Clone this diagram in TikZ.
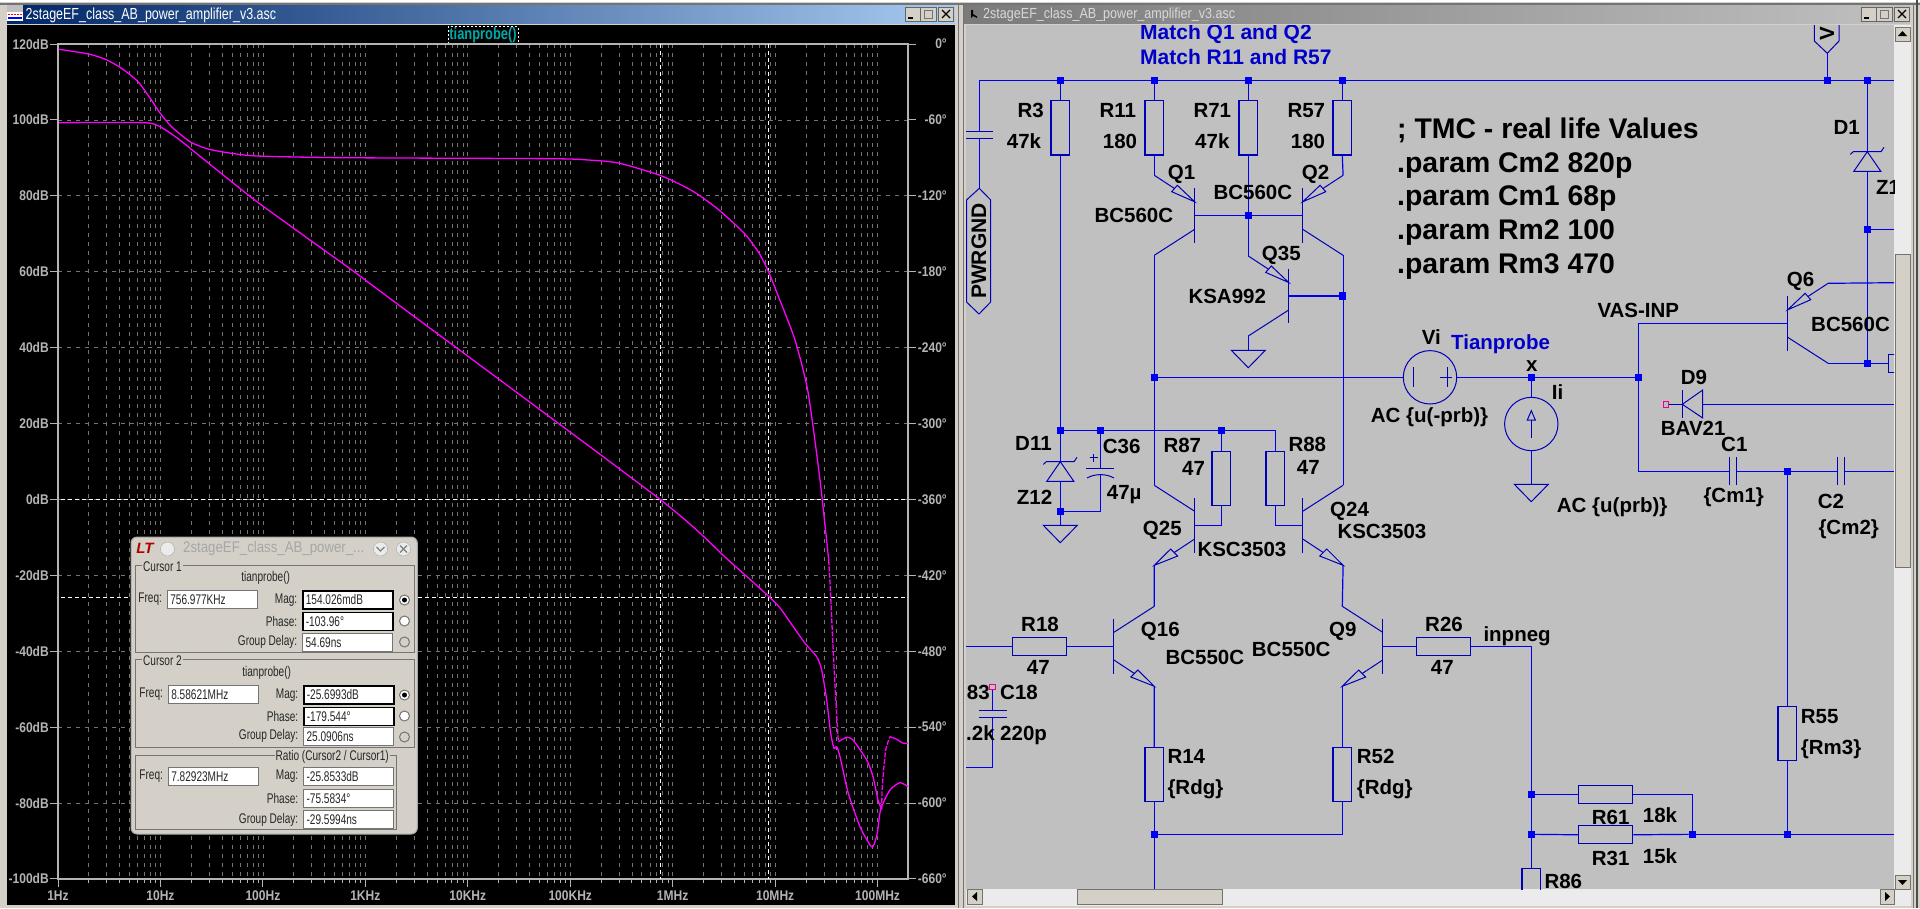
\documentclass[tikz,border=0pt]{standalone}
\usepackage{fontspec}
\setmainfont{Liberation Sans}
\newfontfamily\narrowfont[FakeStretch=.86]{Liberation Sans}
\newfontfamily\dlgfont[FakeStretch=.72]{Liberation Sans}
\newfontfamily\titlefont[FakeStretch=.78]{Liberation Sans}
\usetikzlibrary{positioning}
\definecolor{winbg}{HTML}{D4D0C8}
\definecolor{schbg}{HTML}{C0C0C0}
\definecolor{wireblue}{HTML}{0000F0}
\definecolor{symbblue}{HTML}{0000B8}
\definecolor{textblue}{HTML}{0000C8}
\definecolor{gridgray}{HTML}{747474}
\definecolor{axisgray}{HTML}{B4B4B4}
\definecolor{tracepink}{HTML}{FF00FF}
\tikzset{
	wire/.style={draw=wireblue, line width=1.2pt},
	symb/.style={draw=symbblue, line width=1pt},
	dot/.style={rectangle, fill=wireblue, minimum size=7.2pt, inner sep=0pt},
	resv/.style={rectangle, symb, line width=1.1pt, minimum width=18.6pt, minimum height=54.4pt, inner sep=0pt},
	resh/.style={rectangle, symb, line width=1.1pt, minimum width=54.4pt, minimum height=18.2pt, inner sep=0pt},
	src/.style={circle, symb, minimum size=53.4pt, inner sep=0pt},
	probe/.style={rectangle, draw=magenta, line width=1pt, minimum size=5.5pt, inner sep=0pt},
	schlabel/.style={anchor=base west, inner sep=0pt, text=black, font=\fontsize{20.5}{24}\selectfont\bfseries},
	axislabel/.style={inner sep=0pt, text=axisgray, font=\narrowfont\fontsize{14}{16}\selectfont\bfseries},
	dlgtext/.style={inner sep=0pt, text=black!85, font=\dlgfont\fontsize{14}{16}\selectfont},
	trace/.style={draw=tracepink, line width=1.3pt},
	griddash/.style={draw=gridgray, line width=.8pt, dash pattern=on 4pt off 5pt},
	cursordash/.style={draw=white, line width=1pt, dash pattern=on 4pt off 3pt},
	pics/pnp/.style={code={
		\draw[symb] (0,-27.2) -- (0,27.2);
		\draw[symb] (0,-13.5) -- (-17.4,-30) -- (-23,-23.6) -- cycle;
		\draw[symb] (-20.2,-26.8) -- (-40.4,-40);
		\draw[symb] (0,14) -- (-40.4,40);
		\coordinate (-e) at (-40.4,-40);
		\coordinate (-c) at (-40.4,40);
		\coordinate (-b) at (0,0);
	}},
	pics/npn/.style={code={
		\draw[symb] (0,-27.2) -- (0,27.2);
		\draw[symb] (-40.4,40) -- (-24,23.7) -- (-17,30.7) -- cycle;
		\draw[symb] (-20.5,27.2) -- (0,13.7);
		\draw[symb] (0,-14) -- (-40.4,-40);
		\coordinate (-e) at (-40.4,40);
		\coordinate (-c) at (-40.4,-40);
		\coordinate (-b) at (0,0);
	}},
	pics/gnd/.style={code={
		\draw[symb] (-17,0) -- (17,0) -- (0,17.4) -- cycle;
		\coordinate (-t) at (0,0);
	}},
	pics/zener/.style={code={
		\draw[symb] (-17,2.7) -- (-14,0) -- (13.7,0) -- (16.7,-4.4);
		\draw[symb] (0,0) -- (-13.5,19.6) -- (13.5,19.6) -- cycle;
		\coordinate (-k) at (0,0);
		\coordinate (-a) at (0,19.6);
	}},
	pics/winbtns/.style={code={
		\foreach \bx in {0,15.5,33} {
			\draw[fill=winbg, draw=black!60, line width=1pt] (\bx,0) rectangle ++(15.5,14);
		}
		\draw[black, line width=1.4pt] (3,11) -- (8,11);
		\draw[gridgray, line width=1pt] (19.5,3) rectangle (27.5,11);
		\draw[black, line width=1.2pt] (37,3) -- (45,11) (45,3) -- (37,11);
	}}
}

\begin{document}
\begin{tikzpicture}[x=1pt,y=-1pt]
	\useasboundingbox (0,0) rectangle (1920,908);
	\fill[winbg] (0,0) rectangle (1920,908);
	\draw[white, line width=1.5pt] (0,1) -- (1920,1);
	\draw[gridgray, line width=1.4pt] (0,4) -- (1920,4);
	\draw[gridgray, line width=1pt] (958,4) -- (958,908) (963,4) -- (963,908) (1913,4) -- (1913,908);
	\draw[black!70, line width=1.6pt] (1917,0) -- (1917,908);

	% left window
	\shade[left color=blue!30!black!85!cyan, right color={rgb,255:red,166;green,202;blue,240}] (7,5) rectangle (955,23);
	\fill[black!25] (7,5) rectangle (23,12);
	\fill[white] (7,12) rectangle (23,21);
	\draw[red, line width=1pt, dash pattern=on 2pt off 1pt] (8,14) -- (22,14);
	\draw[blue, line width=1.2pt] (8,18) -- (22,18);
	\node[anchor=west, inner sep=0pt, text=white, font=\titlefont\fontsize{16}{18}\selectfont] (plotTitle) at (25.5,15) {2stageEF\_class\_AB\_power\_amplifier\_v3.asc};
	\pic (plotBtns) at (905,7) {winbtns};
	\fill[black] (7,25) rectangle (955,905);
	\node[draw=white, line width=.8pt, dash pattern=on 2pt off 2pt, inner sep=0pt, minimum width=70pt, minimum height=17pt, text={rgb,255:red,0;green,170;blue,170}, font=\titlefont\fontsize{16.5}{18}\selectfont\bfseries] (plotExpr) at (483,35) {tianprobe()};

	% grid
	\begin{scope}
		\clip (58,44) rectangle (908,879);
		\foreach \dec in {0,...,8} {
			\foreach \off in {0,.301,.477,.602,.699,.778,.845,.903,.954} {
				\pgfmathsetmacro\gx{58+102.45*(\dec+\off)}
				\draw[griddash] (\gx,44) -- (\gx,879);
			}
		}
		\foreach \k in {1,...,10} {
			\draw[griddash] (58,44+75.9*\k) -- (908,44+75.9*\k);
		}
	\end{scope}
	\foreach \dec in {0,...,8} {
		\foreach \off in {.301,.477,.602,.699,.778,.845,.903,.954} {
			\pgfmathsetmacro\gx{58+102.45*(\dec+\off)}
			\pgfmathparse{\gx<908 ? 1 : 0}
			\ifnum\pgfmathresult=1 \draw[axisgray, line width=.9pt] (\gx,879) -- (\gx,883); \fi
		}
	}
	\draw[axisgray, line width=1.1pt] (58,44) rectangle (908,879);
	\foreach \txt [count=\k from 0] in {120dB,100dB,80dB,60dB,40dB,20dB,0dB,-20dB,-40dB,-60dB,-80dB,-100dB} {
		\node[axislabel, anchor=east] (leftTick\k) at (49,44+75.9*\k) {\txt};
		\draw[axisgray, line width=1pt] (50,44+75.9*\k) -- (58,44+75.9*\k);
	}
	\foreach \txt [count=\k from 0] in {0°,-60°,-120°,-180°,-240°,-300°,-360°,-420°,-480°,-540°,-600°,-660°} {
		\node[axislabel, anchor=east] (rightTick\k) at (947,44+75.9*\k) {\txt};
		\draw[axisgray, line width=1pt] (908,44+75.9*\k) -- (916,44+75.9*\k);
	}
	\foreach \txt [count=\k from 0] in {1Hz,10Hz,100Hz,1KHz,10KHz,100KHz,1MHz,10MHz,100MHz} {
		\node[axislabel] (freqTick\k) at (58+102.45*\k,895.5) {\txt};
		\draw[axisgray, line width=1pt] (58+102.45*\k,879) -- (58+102.45*\k,887);
	}

	% cursors
	\draw[cursordash] (660.4,44) -- (660.4,879);
	\draw[cursordash] (768.4,44) -- (768.4,879);
	\draw[cursordash] (61,499.4) -- (908,499.4);
	\draw[cursordash] (61,597.3) -- (908,597.3);

	% traces
	\draw[trace] plot[smooth, tension=.4] coordinates {(58.8,49.3) (88.8,54) (107,60) (122.5,69) (138,81.7) (150,98) (160,113) (171.5,126.7) (190,141.7) (208,149) (229.6,153) (257,156) (343,157.7) (551,158.7) (588,160) (618.5,163) (661,175.7) (692,190.7) (716.5,208) (744,233) (759,253) (768.5,271.7) (779,298) (795,340) (808,392) (820,480) (828.7,560)};
	\draw[trace, dash pattern=on 5pt off 1.5pt] plot[smooth, tension=.4] coordinates {(828.7,560) (830.7,596.7) (833.3,653) (836,703) (838.3,741.7)};
	\draw[trace] plot[smooth, tension=.4] coordinates {(838.3,741.7) (846.7,737.3) (853,740) (866.7,760) (873,776.7) (878,800) (881.7,809.3)};
	\draw[trace, dash pattern=on 5pt off 1.5pt] plot[smooth, tension=.4] coordinates {(881.7,809.3) (882.3,786.7) (885.7,750) (890,736.7)};
	\draw[trace] plot[smooth, tension=.4] coordinates {(890,736.7) (896.7,739.3) (903.3,743.3) (908,743.3)};
	\draw[trace] plot[smooth, tension=.4] coordinates {(58.8,122.7) (144,122.7) (160,126.7) (177.6,138.3) (196,153) (257,201.7) (349,268) (392,300) (660,499.4) (728.3,560) (768.3,596) (780,608) (793.3,626.7) (805,643.3) (816.7,656.7) (821.7,670) (826.7,700) (830.7,733.3) (834,748.3) (836.7,746.7) (840,756.7) (848.3,793.3) (860,826.7) (870,845) (873.3,846) (877.3,833.3) (880.7,809.3) (890,790) (900,782.7) (908,786.7)};

	% cursor dialog
	\draw[rounded corners=6pt, fill=winbg, draw=black!35, line width=1pt] (131,537) rectangle (417.3,834);
	\node[text=red!70!black, inner sep=0pt, font=\fontsize{15}{16}\selectfont\bfseries\itshape] (dlgLogo) at (145,548.5) {LT};
	\node[circle, draw=black!35, fill=black!8, minimum size=14pt, inner sep=0pt] (dlgMenu) at (167.5,549) {};
	\node[anchor=west, inner sep=0pt, text=black!35, font=\narrowfont\fontsize{15.4}{17}\selectfont] (dlgTitle) at (183,549) {2stageEF\_class\_AB\_power\_...};
	\node[circle, draw=black!35, fill=black!8, minimum size=14pt, inner sep=0pt] (dlgRoll) at (380.5,549) {};
	\node[circle, draw=black!35, fill=black!8, minimum size=14pt, inner sep=0pt] (dlgClose) at (403.5,549) {};
	\draw[black!50, line width=1.2pt] (376.5,547) -- (380.5,551) -- (384.5,547);
	\draw[black!50, line width=1.2pt] (400,545.5) -- (407,552.5) (407,545.5) -- (400,552.5);
	\draw[gridgray, line width=1pt] (135,565) rectangle (414,652);
	\draw[gridgray, line width=1pt] (135,659) rectangle (414,747);
	\draw[gridgray, line width=1pt] (135,755) rectangle (396,829);
	\node[dlgtext, anchor=west, fill=winbg, inner xsep=1pt] (c1Title) at (142,567) {Cursor 1};
	\node[dlgtext, anchor=west, fill=winbg, inner xsep=1pt] (c2Title) at (142,661) {Cursor 2};
	\node[dlgtext, anchor=east, fill=winbg, inner xsep=1pt] (ratioTitle) at (390,757) {Ratio (Cursor2 / Cursor1)};
	\node[dlgtext] (c1Expr) at (265.7,578) {tianprobe()};
	\node[dlgtext] (c2Expr) at (266.7,673) {tianprobe()};
	\foreach \nm/\lab/\fx/\fy/\txt/\lw/\dc in {
		c1F/Freq:/166.7/590/756.977KHz/1.2/gridgray,
		c1M/Mag:/302/590/154.026mdB/1.7/black,
		c1P/Phase:/302/611.7/-103.96°/1.7/black,
		c1G/Group Delay:/302/632.7/54.69ns/1.2/gridgray,
		c2F/Freq:/167.7/685/8.58621MHz/1.2/gridgray,
		c2M/Mag:/303/685/-25.6993dB/1.7/black,
		c2P/Phase:/303/706.7/-179.544°/1.7/black,
		c2G/Group Delay:/303/726.7/25.0906ns/1.2/gridgray,
		rF/Freq:/167.7/766.7/7.82923MHz/1.2/gridgray,
		rM/Mag:/303/766.7/-25.8533dB/1.2/gridgray,
		rP/Phase:/303/789/-75.5834°/1.2/gridgray,
		rG/Group Delay:/303/810/-29.5994ns/1.2/gridgray} {
		\node[dlgtext, anchor=north west, fill=white, draw=\dc, line width=\lw pt, text width=84pt, inner xsep=3pt, inner ysep=0pt, minimum height=18pt] (\nm) at (\fx,\fy) {\txt};
		\node[dlgtext, left=4.5pt of \nm] (\nm lab) {\lab};
	}
	\foreach \nm/\ry/\col in {c1a/600/white,c1b/621/white,c1c/642/winbg,c2a/695/white,c2b/716/white,c2c/737/winbg} {
		\node[circle, draw=gridgray, fill=\col, line width=1pt, minimum size=10pt, inner sep=0pt] (\nm) at (404.5,\ry) {};
	}
	\fill[black] (c1a) circle (2.5);
	\fill[black] (c2a) circle (2.5);

	% right window
	\shade[left color=black!52, right color=schbg] (964,5) rectangle (1910,23);
	\fill[black] (971,10) -- (971,18) -- (973,16) -- (977,18) -- (977,16.5) -- (973,14) -- (973,10) -- cycle;
	\node[anchor=west, inner sep=0pt, text=black!15, font=\narrowfont\fontsize{14.6}{16}\selectfont] (schTitle) at (983,15) {2stageEF\_class\_AB\_power\_amplifier\_v3.asc};
	\pic (schBtns) at (1861,7) {winbtns};
	\fill[schbg] (966,25) rectangle (1894,889);
	\fill[black!8] (1894,25) rectangle (1911,906);
	\fill[black!8] (966,889) rectangle (1894,906);
	\draw[fill=winbg, draw=black!55] (1895,27) rectangle (1910,41);
	\draw[fill=winbg, draw=black!55] (1895,254) rectangle (1910,567);
	\draw[fill=winbg, draw=black!55] (1895,875) rectangle (1910,889);
	\draw[fill=winbg, draw=black!55] (967,889) rectangle (982,904);
	\draw[fill=winbg, draw=black!55] (1077,889) rectangle (1222,904);
	\draw[fill=winbg, draw=black!55] (1880,889) rectangle (1894,904);
	\fill[black] (1898,36) -- (1907,36) -- (1902.5,31) -- cycle;
	\fill[black] (1898,880) -- (1907,880) -- (1902.5,885) -- cycle;
	\fill[black] (977,892) -- (977,901) -- (972,896.5) -- cycle;
	\fill[black] (1885,892) -- (1885,901) -- (1890,896.5) -- cycle;

	\begin{scope}
		\clip (966,25) rectangle (1894,889);
		% parts
		\node[resv] (R3) at (1060.3,127.8) {};
		\node[resv] (R11) at (1154.3,127.8) {};
		\node[resv] (R71) at (1248.3,127.8) {};
		\node[resv] (R57) at (1342.3,127.8) {};
		\node[resv] (R87) at (1221.3,478.5) {};
		\node[resv] (R88) at (1275.3,478.5) {};
		\node[resv] (R14) at (1154.3,774.5) {};
		\node[resv] (R52) at (1342.3,774.5) {};
		\node[resv] (R55) at (1787.3,733.5) {};
		\node[resv] (R86) at (1531.3,895.5) {};
		\node[resh] (R18) at (1039.5,646.3) {};
		\node[resh] (R26) at (1443.5,646.3) {};
		\node[resh] (R61) at (1605.5,794.3) {};
		\node[resh] (R31) at (1605.5,834.8) {};
		\node[rectangle, symb, minimum width=54.4pt, minimum height=18.2pt, inner sep=0pt, anchor=west] (Rq6) at (1888.3,363.3) {};
		\node[src] (Vi) at (1430,377.3) {};
		\node[src] (Ii) at (1531.3,424) {};
		\pic (Q1) at (1194.7,215.3) {pnp};
		\pic[xscale=-1] (Q2) at (1302.7,215.3) {pnp};
		\pic (Q35) at (1288.7,296) {pnp};
		\pic[xscale=-1] (Q6) at (1787.7,323.3) {pnp};
		\pic (Q25) at (1194.7,525.3) {npn};
		\pic[xscale=-1] (Q24) at (1302.7,525.3) {npn};
		\pic[xscale=-1] (Q16) at (1113.9,646.3) {npn};
		\pic (Q9) at (1382.7,646.3) {npn};
		\pic (gndQ35) at (1248.3,350.3) {gnd};
		\pic (gndD11) at (1060.3,525.3) {gnd};
		\pic (gndIi) at (1531.3,484.3) {gnd};
		\pic (D11) at (1060.3,461.7) {zener};
		\pic (D1) at (1867.3,151.7) {zener};

		% junctions
		\foreach \nm/\jx/\jy in {jR3/1060.3/80.3, jR11/1154.3/80.3, jR71/1248.3/80.3, jR57/1342.3/80.3, jV/1827.3/80.3, jD1/1867.3/80.3,
			jBase/1248.3/215.3, jQ35/1342.3/296, jVi/1154.3/377.3, jD11/1060.3/430.3, jC36/1100.3/430.3, jR87/1221.3/430.3, jGnd/1060.3/511.3,
			jX/1531.3/377.3, jVas/1638.3/377.3, jZ/1867.3/229.3, jQ6/1867.3/363.3, jCm/1787.3/471.3,
			jR14/1154.3/834.3, jR61/1531.3/794.3, jR31/1531.3/834.3, jFb/1692.3/834.3, jR55/1787.3/834.3} {
			\node[dot] (\nm) at (\jx,\jy) {};
		}
		\coordinate (railL) at (979.3,80.3);
		\coordinate (railR) at (1894,80.3);
		\node[probe] (pD9) at (1666,404.3) {};
		\node[probe] (pC18) at (992.7,687) {};

		% wires
		\draw[wire] (railL) -- (railR);
		\draw[wire] (jR3) -- (R3.north);
		\draw[wire] (jR11) -- (R11.north);
		\draw[wire] (jR71) -- (R71.north);
		\draw[wire] (jR57) -- (R57.north);
		\draw[wire] (R3.south) -- (jD11);
		\draw[wire] (R11.south) -- (Q1-e);
		\draw[wire] (R57.south) -- (Q2-e);
		\draw[wire] (R71.south) -- (jBase);
		\draw[wire] (jBase) -- (Q35-e);
		\draw[wire] (Q1-b) -- (Q2-b);
		\draw[wire] (Q1-c) -- (Q25-c);
		\draw[wire] (Q2-c) -- (Q24-c);
		\draw[wire] (Q35-b) -- (jQ35);
		\draw[wire] (Q35-c) -- (gndQ35-t);
		\draw[wire] (jVi) -- (Vi.west);
		\draw[wire] (Vi.east) -- (jVas);
		\draw[wire] (jX) -- (Ii.north);
		\draw[wire] (Ii.south) -- (gndIi-t);
		\draw[wire] (jD11) -| (R88.north);
		\draw[wire] (jD11) -- (D11-k);
		\draw[wire] (D11-a) -- (jGnd);
		\draw[wire] (jGnd) -- (gndD11-t);
		\draw[wire] (jR87) -- (R87.north);
		\draw[wire] (R87.south) |- (Q25-b);
		\draw[wire] (R88.south) |- (Q24-b);
		\draw[wire] (Q25-e) -- (Q16-c);
		\draw[wire] (Q24-e) -- (Q9-c);
		\draw[wire] (Q16-e) -- (R14.north);
		\draw[wire] (Q9-e) -- (R52.north);
		\draw[wire] (R14.south) -- (jR14);
		\draw[wire] (R52.south) |- (jR14);
		\coordinate (rowB) at (1154.3,889);
		\draw[wire] (jR14) -- (rowB);
		\draw[wire] (R18.east) -- (Q16-b);
		\draw[wire] (Q9-b) -- (R26.west);
		\coordinate (inL) at (966,646.3);
		\draw[wire] (inL) -- (R18.west);
		\draw[wire] (R26.east) -| (jR61);
		\draw[wire] (jR61) -- (jR31);
		\draw[wire] (jR31) -- (R86.north);
		\draw[wire] (jR61) -- (R61.west);
		\draw[wire] (jR31) -- (R31.west);
		\draw[wire] (R61.east) -| (jFb);
		\draw[wire] (R31.east) -- (jFb);
		\coordinate (fbR) at (1894,834.3);
		\draw[wire] (jFb) -- (fbR);
		\draw[wire] (jCm) -- (R55.north);
		\draw[wire] (R55.south) -- (jR55);
		\draw[wire] (jVas) |- (Q6-b);
		\coordinate (c1L) at (1729.3,471.3);
		\coordinate (c1R) at (1736.7,471.3);
		\coordinate (c2L) at (1837.3,471.3);
		\coordinate (c2R) at (1844.7,471.3);
		\coordinate (cmR) at (1894,471.3);
		\draw[wire] (jVas) |- (c1L);
		\draw[wire] (c1R) -- (jCm);
		\draw[wire] (jCm) -- (c2L);
		\draw[wire] (c2R) -- (cmR);
		\draw[symb] (1729.3,457.3) -- (1729.3,485) (1736.7,457.3) -- (1736.7,485);
		\draw[symb] (1837.3,457.3) -- (1837.3,485) (1844.7,457.3) -- (1844.7,485);
		% supply side
		\coordinate (vFlag) at (1827.3,53.3);
		\draw[wire] (jV) -- (vFlag);
		\draw[symb] (1814.3,25) -- (1814.3,41) -- (vFlag) -- (1839,41) -- (1839,25);
		\node[rotate=90, inner sep=0pt, font=\fontsize{20.5}{24}\selectfont\bfseries] (vName) at (1827,34) {V};
		\draw[wire] (jD1) -- (D1-k);
		\draw[wire] (D1-a) -- (jZ);
		\draw[wire] (jZ) -- (jQ6);
		\coordinate (zR) at (1894,229.3);
		\coordinate (q6R) at (1894,282.7);
		\draw[wire] (jZ) -- (zR);
		\draw[wire] (Q6-e) -- (q6R);
		\draw[wire] (Q6-c) -- (jQ6);
		\draw[wire] (jQ6) -- (Rq6.west);
		% D9
		\coordinate (d9k) at (1682.3,404.3);
		\coordinate (d9a) at (1702.7,404.3);
		\coordinate (d9R) at (1894,404.3);
		\draw[symb] (pD9) -- (d9k);
		\draw[symb] (1682.3,390) -- (1682.3,417.7);
		\draw[symb] (d9k) -- (1702.7,390) -- (1702.7,418) -- cycle;
		\draw[wire] (d9a) -- (d9R);
		% C3 and PWRGND
		\coordinate (capA) at (979.3,131.3);
		\coordinate (capB) at (979.3,138.3);
		\coordinate (flagTop) at (979.3,188.3);
		\draw[wire] (railL) -- (capA);
		\draw[wire] (capB) -- (flagTop);
		\draw[symb] (966,131.3) -- (992.7,131.3) (966,138.3) -- (992.7,138.3);
		\draw[symb] (flagTop) -- (990.7,200) -- (990.7,302) -- (979,314) -- (966.5,302) -- (966.5,200) -- cycle;
		\node[rotate=90, inner sep=0pt, font=\fontsize{21}{24}\selectfont\bfseries] (pwrName) at (979,251) {PWRGND};
		% C36
		\coordinate (c36a) at (1100.3,468.3);
		\coordinate (c36b) at (1100.3,474.6);
		\coordinate (c36c) at (1100.3,511.3);
		\draw[wire] (jC36) -- (c36a);
		\draw[wire] (c36b) -- (c36c) -- (jGnd);
		\draw[symb] (1086,468.3) -- (1114,468.3);
		\draw[symb] (1087,478) .. controls (1095,473.5) and (1106,473.5) .. (1114,478);
		\draw[symb] (1089.7,457.7) -- (1097.7,457.7) (1093.7,453.7) -- (1093.7,461.7);
		% Vi, Ii marks
		\draw[symb] (1413.7,367.3) -- (1413.7,387.3);
		\draw[symb] (1440,377.3) -- (1452,377.3) (1447.3,367.3) -- (1447.3,387.3);
		\draw[symb] (1531.3,437.7) -- (1531.3,420);
		\draw[symb] (1531.3,410.7) -- (1527.3,420) -- (1535.3,420) -- cycle;
		% C18
		\coordinate (c18a) at (992.7,710.3);
		\coordinate (c18b) at (992.7,717.3);
		\coordinate (c18c) at (992.7,767.3);
		\coordinate (c18L) at (966,767.3);
		\draw[wire] (pC18) -- (c18a);
		\draw[wire] (c18b) -- (c18c) -- (c18L);
		\draw[symb] (979,710.3) -- (1006.7,710.3) (979,717.3) -- (1006.7,717.3);

		% labels
		\foreach \nm/\lx/\ly/\txt in {
			lR3/1017.3/117.7/R3, lR3v/1006.7/148.3/47k, lR11/1099.3/117.7/R11, lR11v/1102.7/148.3/180,
			lR71/1193.3/117.7/R71, lR71v/1195/148.3/47k, lR57/1287.3/117.7/R57, lR57v/1290.7/148.3/180,
			lQ1/1167.7/179.3/Q1, lQ2/1301.7/179.3/Q2, lQ2v/1213.3/199/BC560C, lQ1v/1094.3/222.7/BC560C,
			lQ35/1261.7/260/Q35, lQ35v/1188.3/303.3/KSA992, lD1/1833.3/134.7/D1, lZ1/1876/194.3/Z1,
			lQ6/1786.7/286.7/Q6, lQ6v/1811/331.7/BC560C, lVas/1597.3/317.7/VAS-INP,
			lx/1526/371.7/x, lIi/1551.7/399.3/Ii, lVi/1421.7/344.3/Vi, lViv/1370.7/422.3/AC \{u(-prb)\},
			lIiv/1556.7/512.7/AC \{u(prb)\}, lD9/1680.7/384.3/D9, lD9v/1660.7/435/BAV21,
			lC1/1721/451/C1, lC1v/1703.3/502.7/\{Cm1\}, lC2/1817.7/508.3/C2, lC2v/1818.3/534/\{Cm2\},
			lD11/1015/450.7/D11, lZ12/1016.7/504/Z12, lC36/1102.7/453.3/C36, lC36v/1106.7/499/47µ,
			lR87/1163.3/452.7/R87, lR87v/1182/475.3/47, lR88/1288.3/451.7/R88, lR88v/1296.7/474/47,
			lQ25/1142.7/535/Q25, lQ25v/1197.3/556.7/KSC3503, lQ24/1330/516/Q24, lQ24v/1337.3/538.7/KSC3503,
			lR18/1021/631.7/R18, lR18v/1026.7/674/47, lQ16/1140.7/636.7/Q16, lQ16v/1165.3/664.7/BC550C,
			lQ9v/1251.7/656.7/BC550C, lQ9/1329/636.7/Q9, lR26/1425/631.7/R26, lR26v/1430.7/674/47,
			lInp/1483.3/641/inpneg, lR83/966.7/699.3/83, lC18/1000/699.3/C18, lR83v/966/740/.2k, lC18v/1000/740/220p,
			lR14/1167.3/763.3/R14, lR14v/1167.3/794/\{Rdg\}, lR52/1356.7/763.3/R52, lR52v/1356.7/794/\{Rdg\},
			lR55/1800.7/723.3/R55, lR55v/1800.7/754/\{Rm3\}, lR61/1591.7/824/R61, lR61v/1642.7/822.7/18k,
			lR31/1591.7/865.3/R31, lR31v/1642.7/863.3/15k, lR86/1544.3/888.3/R86} {
			\node[schlabel] (\nm) at (\lx,\ly) {\txt};
		}
		\node[schlabel, text=textblue, font=\fontsize{21}{24}\selectfont\bfseries] (match1) at (1140,39.3) {Match Q1 and Q2};
		\node[schlabel, text=textblue, font=\fontsize{21}{24}\selectfont\bfseries] (match2) at (1140,64) {Match R11 and R57};
		\node[schlabel, text=textblue] (tianName) at (1451,349.3) {Tianprobe};
		\node[anchor=north west, inner sep=0pt, align=left, text=black, font=\fontsize{28.4}{33.6}\selectfont\bfseries] (params) at (1397,118) {; TMC - real life Values\\.param Cm2 820p\\.param Cm1 68p\\.param Rm2 100\\.param Rm3 470};
	\end{scope}
\end{tikzpicture}
\end{document}
